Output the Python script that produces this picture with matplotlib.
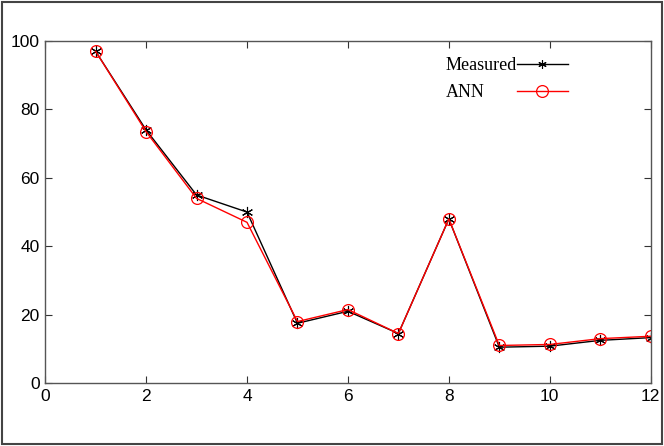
import matplotlib
matplotlib.use("Agg")
import matplotlib.pyplot as plt
from matplotlib.patches import Rectangle

sample = [1, 2, 3, 4, 5, 6, 7, 8, 9, 10, 11, 12]
measured = [97.0, 74.0, 55.0, 50.0, 17.5, 21.0, 14.5, 48.0, 10.5, 10.8, 12.5, 13.3]
ann = [97.0, 73.5, 54.0, 47.0, 18.0, 21.5, 14.5, 48.0, 11.0, 11.3, 13.0, 13.7]

x_ticks = [0, 2, 4, 6, 8, 10, 12]
y_ticks = [0, 20, 40, 60, 80, 100]

fig = plt.figure(figsize=(6.64, 4.46), dpi=100)
ax = fig.add_axes([0.068, 0.141, 0.912, 0.767])

ax.plot(sample, measured, "-", marker=(6, 2, 0), color="black", lw=1.0, ms=8, mew=0.8,
        label="Measured")
ax.plot(sample, ann, "-o", color="red", lw=1.0, ms=8.5, mfc="none", mew=0.9, label="ANN")

ax.set_xlim(0, 12)
ax.set_ylim(0, 100)
ax.set_xticks(x_ticks)
ax.set_yticks(y_ticks)
ax.tick_params(direction="in", top=True, right=True, length=5, width=0.8,
               labelsize=12.5, colors="#333333", labelcolor="black", pad=4)
for lbl in ax.get_xticklabels() + ax.get_yticklabels():
    lbl.set_family("Liberation Sans")
for sp in ax.spines.values():
    sp.set_color("#555555")
    sp.set_linewidth(1.0)

leg = ax.legend(loc="upper right", bbox_to_anchor=(0.863, 0.952), frameon=False,
                markerfirst=False, handlelength=2.8, handletextpad=0.0, labelspacing=0.55,
                borderpad=0, borderaxespad=0,
                prop={"family": "Liberation Serif", "size": 13})
for h in leg.legend_handles[:1]:
    h.set_markersize(6)

# left-align the labels like the original (handles stay in one column)
fig.canvas.draw()
texts = leg.get_texts()
widths = [t.get_window_extent().width for t in texts]
for t, w in zip(texts, widths):
    t.set_x(w - max(widths))

fig.patches.append(Rectangle((0.003, 0.004), 0.994, 0.992, transform=fig.transFigure,
                             fill=False, edgecolor="#444444", linewidth=1.5))

fig.savefig("out.png", dpi=100)
